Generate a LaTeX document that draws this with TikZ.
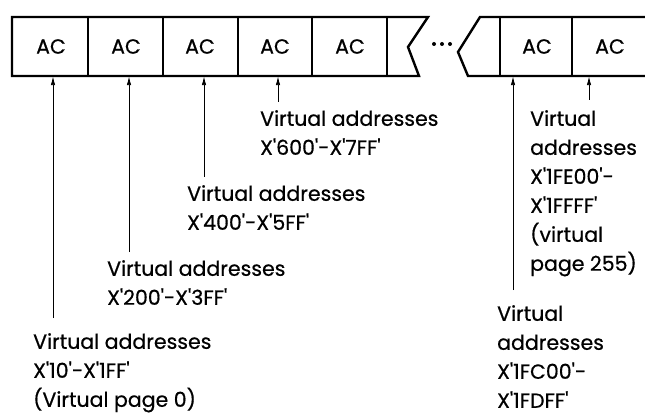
\documentclass[tikz,border=0pt]{standalone}
\usepackage{fontspec}
\setmainfont{Poppins}[Ligatures=TeXOff, FakeBold=0.6]
\usetikzlibrary{arrows.meta}

\tikzset{
  strip/.style={line width=2.4pt, line join=miter},
  divider/.style={line width=1.8pt},
  cell/.style={minimum width=74pt, minimum height=59pt, inner sep=0pt},
  ptr/.style={line width=0.9pt, -{Latex[length=9pt,width=4.5pt]}},
  addr/.style={anchor=north west, inner sep=0pt, align=left},
}

\begin{document}
\begin{tikzpicture}[x=1pt, y=-1pt, font=\fontsize{20.5}{29}\selectfont]
  \useasboundingbox (0,0) rectangle (645,414);
  % left strip
  \draw[strip] (428,17) -- (12,17) -- (12,76) -- (419,76) -- (408,47) -- cycle;
  \foreach \x in {88,163,238,312,387}
    \draw[divider] (\x,17) -- (\x,76);
  % break
  \foreach \x in {434,442,450}
    \fill (\x,44) circle (2pt);
  % right strip
  \draw[strip] (652,17) -- (480,17) -- (458,52) -- (468,76) -- (652,76);
  \foreach \x in {500,572}
    \draw[divider] (\x,17) -- (\x,76);
  % cells
  \node[cell] (ac1) at (51,46.5) {AC};
  \node[cell] (ac2) at (126,46.5) {AC};
  \node[cell] (ac3) at (200,46.5) {AC};
  \node[cell] (ac4) at (275,46.5) {AC};
  \node[cell] (ac5) at (350,46.5) {AC};
  \node[cell] (ac6) at (537,46.5) {AC};
  \node[cell] (ac7) at (610,46.5) {AC};
  % address ranges
  \node[addr] (va1) at (33,333) {Virtual addresses\\X'10'-X'1FF'\\(Virtual page 0)};
  \node[addr] (va2) at (107,260) {Virtual addresses\\X'200'-X'3FF'};
  \node[addr] (va3) at (187,185) {Virtual addresses\\X'400'-X'5FF'};
  \node[addr] (va4) at (260,110) {Virtual addresses\\X'600'-X'7FF'};
  \node[addr] (va6) at (497,305) {Virtual\\addresses\\X'1FC00'-\\X'1FDFF'};
  \node[addr] (va7) at (530,110) {Virtual\\addresses\\X'1FE00'-\\X'1FFFF'\\(virtual\\page 255)};
  % pointers
  \coordinate (p1) at (53,318);
  \coordinate (p2) at (129,252);
  \coordinate (p3) at (204,177);
  \coordinate (p4) at (278,102);
  \coordinate (p6) at (513,290);
  \coordinate (p7) at (589,100);
  \draw[ptr] (p1) -- (p1 |- ac1.south);
  \draw[ptr] (p2) -- (p2 |- ac2.south);
  \draw[ptr] (p3) -- (p3 |- ac3.south);
  \draw[ptr] (p4) -- (p4 |- ac4.south);
  \draw[ptr] (p6) -- (p6 |- ac6.south);
  \draw[ptr] (p7) -- (p7 |- ac7.south);
\end{tikzpicture}
\end{document}
